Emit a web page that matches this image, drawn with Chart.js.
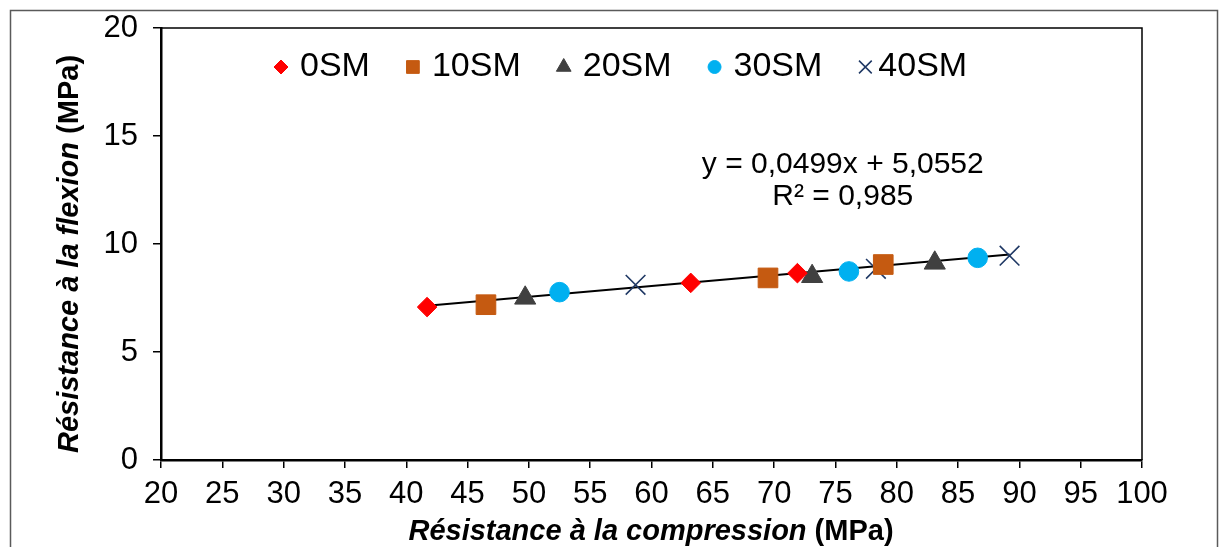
<!DOCTYPE html>
<html>
<head>
<meta charset="utf-8">
<script src="https://cdn.jsdelivr.net/npm/chart.js@4.4.1/dist/chart.umd.min.js"></script>
<style>
  body { margin: 0; background: #fff; }
  #wrap { width: 1219px; height: 547px; }
</style>
</head>
<body>
<div id="wrap"><canvas id="chart" width="1219" height="547"></canvas></div>
<script>
// Data
const seriesNames = ['0SM', '10SM', '20SM', '30SM', '40SM'];
const comp0 = [41.7, 63.2, 71.9];
const flex0 = [7.08, 8.2, 8.65];
const comp10 = [46.5, 69.5, 78.9];
const flex10 = [7.19, 8.43, 9.05];
const comp20 = [49.7, 73.1, 83.1];
const flex20 = [7.5, 8.5, 9.12];
const comp30 = [52.5, 76.1, 86.6];
const flex30 = [7.77, 8.73, 9.36];
const comp40 = [58.7, 78.3, 89.2];
const flex40 = [8.11, 8.85, 9.46];

// linear trendline end points
const trendComp = [41.7, 89.2];
const trendFlex = [7.14, 9.51];

const xTicks = [20, 100, 5];   // min, max, step
const yTicks = [0, 20, 5];
const equationLines = ['y = 0,0499x + 5,0552', 'R² = 0,985'];

// Styles
const colors = ['#ff0000', '#c55a11', '#404040', '#00b0f0', '#1f3864'];
const styles = ['rectRot', 'rect', 'triangle', 'circle', 'crossRot'];
const radii = [9.8, 13.9, 12.2, 9.8, 13.9];
const legendRadii = [7, 9, 8.5, 6.5, 9];
const FONT = '"Liberation Sans", Arial, sans-serif';

function pts(xs, ys) {
    return xs.map((x, i) => ({ x: x, y: ys[i] }));
}

const allX = [comp0, comp10, comp20, comp30, comp40];
const allY = [flex0, flex10, flex20, flex30, flex40];

const datasets = seriesNames.map((name, i) => ({
    type: 'scatter',
    label: name,
    data: pts(allX[i], allY[i]),
    pointStyle: styles[i],
    pointRadius: radii[i],
    pointHoverRadius: radii[i],
    backgroundColor: colors[i],
    borderColor: colors[i],
    borderWidth: styles[i] === 'crossRot' ? 1.6 : 1,
    order: 1
}));

datasets.push({
    type: 'line',
    label: 'trend',
    data: pts(trendComp, trendFlex),
    borderColor: '#000',
    borderWidth: 2,
    pointRadius: 0,
    fill: false,
    order: 2
});

// extra drawing: plot frame, outer frame, titles, legend, equation
const decorations = {
    id: 'decorations',
    beforeDatasetsDraw(chart) {
        const { ctx, chartArea: a } = chart;
        ctx.save();
        ctx.strokeStyle = '#000';
        ctx.lineWidth = 1.5;
        ctx.beginPath();
        ctx.moveTo(a.left, a.top);
        ctx.lineTo(a.right, a.top);
        ctx.lineTo(a.right, a.bottom);
        ctx.stroke();
        ctx.restore();
    },
    afterDraw(chart) {
        const { ctx, scales } = chart;
        ctx.save();

        // outer frame
        ctx.strokeStyle = '#5a5a5a';
        ctx.lineWidth = 1.5;
        ctx.strokeRect(10.5, 10.5, 1207, 560);

        ctx.fillStyle = '#000';

        // x title
        ctx.textBaseline = 'alphabetic';
        ctx.textAlign = 'left';
        const partA = 'Résistance à la compression ';
        const partB = '(MPa)';
        const fA = 'italic bold 29px ' + FONT, fB = 'bold 29px ' + FONT;
        ctx.font = fA; const wA = ctx.measureText(partA).width;
        ctx.font = fB; const wB = ctx.measureText(partB).width;
        let sx = 651 - (wA + wB) / 2;
        ctx.font = fA; ctx.fillText(partA, sx, 540);
        ctx.font = fB; ctx.fillText(partB, sx + wA, 540);

        // y title
        const yA = 'Résistance à la flexion ';
        ctx.font = fA; const wyA = ctx.measureText(yA).width;
        ctx.font = fB; const wyB = ctx.measureText(partB).width;
        ctx.translate(78, 254);
        ctx.rotate(-Math.PI / 2);
        let sy = -(wyA + wyB) / 2;
        ctx.font = fA; ctx.fillText(yA, sy, 0);
        ctx.font = fB; ctx.fillText(partB, sy + wyA, 0);
        ctx.setTransform(1, 0, 0, 1, 0, 0);

        // legend
        ctx.font = '34px ' + FONT;
        ctx.textBaseline = 'middle';
        let lx = 281;
        const ly = 67;
        seriesNames.forEach((name, i) => {
            ctx.fillStyle = colors[i];
            ctx.strokeStyle = colors[i];
            ctx.lineWidth = styles[i] === 'crossRot' ? 1.5 : 1;
            Chart.helpers.drawPoint(ctx, {
                pointStyle: styles[i], radius: legendRadii[i], rotation: 0,
                borderWidth: ctx.lineWidth
            }, lx, ly);
            const tx = lx + (styles[i] === 'crossRot' ? 13 : 19);
            ctx.fillStyle = '#000';
            ctx.fillText(name, tx, ly);
            lx = tx + ctx.measureText(name).width + 43;
        });

        // equation, anchored to data coordinates
        ctx.font = '30px ' + FONT;
        ctx.textAlign = 'center';
        const ex = scales.x.getPixelForValue(75.6);
        ctx.fillText(equationLines[0], ex, scales.y.getPixelForValue(13.65));
        ctx.fillText(equationLines[1], ex, scales.y.getPixelForValue(12.17));

        ctx.restore();
    }
};

const tickFont = { family: FONT, size: 31 };

new Chart(document.getElementById('chart'), {
    data: { datasets: datasets },
    options: {
        responsive: false,
        animation: false,
        layout: { padding: { left: 0, top: 28, right: 77, bottom: 0 } },
        plugins: {
            legend: { display: false },
            tooltip: { enabled: false }
        },
        scales: {
            x: {
                type: 'linear',
                min: xTicks[0], max: xTicks[1],
                ticks: { stepSize: xTicks[2], color: '#000', font: tickFont, padding: 8, maxRotation: 0 },
                grid: { drawOnChartArea: false, drawTicks: true, tickLength: 8, color: '#000', lineWidth: 1.5 },
                border: { display: true, color: '#000', width: 2.5 },
                afterFit(scale) { scale.height = 87; }
            },
            y: {
                type: 'linear',
                min: yTicks[0], max: yTicks[1],
                ticks: { stepSize: yTicks[2], color: '#000', font: tickFont, padding: 15 },
                grid: { drawOnChartArea: false, drawTicks: true, tickLength: 8, color: '#000', lineWidth: 1.5 },
                border: { display: true, color: '#000', width: 2.5 },
                afterFit(scale) {
                    scale.width = 161;
                    scale.paddingTop = 0;
                    scale.paddingBottom = 0;
                }
            }
        }
    },
    plugins: [decorations]
});
</script>
</body>
</html>
